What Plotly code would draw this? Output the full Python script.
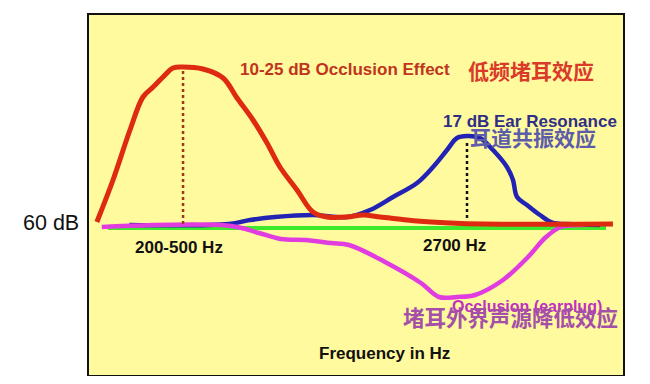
import plotly.graph_objects as go

# Frequency (Hz, log axis) and level (dB)
red_f = [154, 174.5, 199, 220, 238, 257, 277.5, 300, 350, 409, 455.5, 515.5, 574.5, 635, 724.5, 820, 914, 1067, 1207, 1377, 1488, 1834, 2367, 3056, 8352]
red_db = [60.4, 68.8, 78.8, 85.4, 87.4, 89.4, 91.2, 91.4, 91.0, 89.2, 85.2, 80.8, 76.2, 71.4, 66.8, 62.4, 61.4, 61.4, 61.8, 61.4, 61.2, 60.6, 60.2, 60.0, 60.0]

blue_f = [198, 428, 504, 611, 820, 1067, 1275, 1523, 1834, 2076, 2313, 2499, 2700, 2985, 3302, 3679, 3854, 3976, 4295, 4749, 5253, 5853, 7554]
blue_db = [59.8, 60.0, 60.8, 61.4, 61.8, 61.4, 62.8, 65.4, 68.2, 71.4, 74.8, 77.2, 77.6, 77.2, 74.8, 71.4, 68.8, 65.4, 63.8, 61.8, 60.2, 60.0, 59.8]

mag_f = [160, 435, 540, 640, 771, 943, 1083, 1432, 1891, 2174, 2499, 2873, 3567, 4329, 4976, 5588, 6726]
mag_db = [59.4, 59.6, 58.2, 57.0, 56.8, 56.2, 55.8, 52.4, 48.2, 45.4, 45.4, 45.8, 48.8, 53.4, 57.4, 59.4, 59.8]

green_f = [168, 7915]
green_db = [59.2, 59.2]

occl_marker_f = [300, 300]
occl_marker_db = [60.0, 91.0]
reson_marker_f = [2700, 2700]
reson_marker_db = [61.2, 76.4]

fig = go.Figure()
fig.add_trace(go.Scatter(x=green_f, y=green_db, mode="lines",
                         line=dict(color="#3ee82a", width=4)))
fig.add_trace(go.Scatter(x=blue_f, y=blue_db, mode="lines", line_shape="spline",
                         line=dict(color="#2222b4", width=4.5)))
fig.add_trace(go.Scatter(x=mag_f, y=mag_db, mode="lines", line_shape="spline",
                         line=dict(color="#e03ce0", width=4.5)))
fig.add_trace(go.Scatter(x=red_f, y=red_db, mode="lines", line_shape="spline",
                         line=dict(color="#dd2a10", width=5)))
fig.add_trace(go.Scatter(x=occl_marker_f, y=occl_marker_db, mode="lines",
                         line=dict(color="#9a3a1c", width=2.5, dash="dot")))
fig.add_trace(go.Scatter(x=reson_marker_f, y=reson_marker_db, mode="lines",
                         line=dict(color="#111111", width=2.5, dash="dot")))

bold = "Liberation Sans, Arial, sans-serif"
cjk = "Noto Sans CJK SC, sans-serif"

def ann(text, x, y, size, color, family, xanchor="left"):
    fig.add_annotation(text=text, x=x, y=y, xref="paper", yref="paper",
                       showarrow=False, xanchor=xanchor, yanchor="middle",
                       font=dict(size=size, color=color, family=family))

ann("<b>10-25 dB Occlusion Effect</b>", 0.279, 0.848, 17, "#c0341d", bold)
ann("<b>低频堵耳效应</b>", 0.706, 0.848, 21, "#d93a2a", cjk)
ann("<b>17 dB Ear Resonance</b>", 0.659, 0.705, 17, "#2e2e86", bold)
ann("<b>耳道共振效应</b>", 0.710, 0.660, 21, "#5c5caa", cjk)
ann("<b>200-500 Hz</b>", 0.1685, 0.353, 17, "#111111", bold, "center")
ann("<b>2700 Hz</b>", 0.685, 0.361, 17, "#111111", bold, "center")
ann("<b>Occlusion (earplug)</b>", 0.676, 0.191, 16, "#c030c0", bold)
ann("<b>堵耳外界声源降低效应</b>", 0.584, 0.163, 21.5, "#a550a8", cjk)
ann("<b>Frequency in Hz</b>", 0.554, 0.060, 17, "#111111", bold, "center")
ann("60 dB", -0.015, 0.421, 21.5, "#111111", bold, "right")

# page body has an 8px margin; the figure is sized so the frame lands at x 89-623, y 15-375
fig.update_layout(
    width=634, height=368,
    margin=dict(l=81, r=19, t=7, b=1),
    paper_bgcolor="white", plot_bgcolor="#fffa9e",
    showlegend=False,
    xaxis=dict(type="log", range=[2.1611, 3.9556], showgrid=False, zeroline=False,
               showticklabels=False, ticks="", showline=True, linecolor="#111111",
               linewidth=2, mirror=True),
    yaxis=dict(range=[29.8, 101.8], showgrid=False, zeroline=False,
               showticklabels=False, ticks="", showline=True, linecolor="#111111",
               linewidth=2, mirror=True),
)

fig.write_html("out.html")
